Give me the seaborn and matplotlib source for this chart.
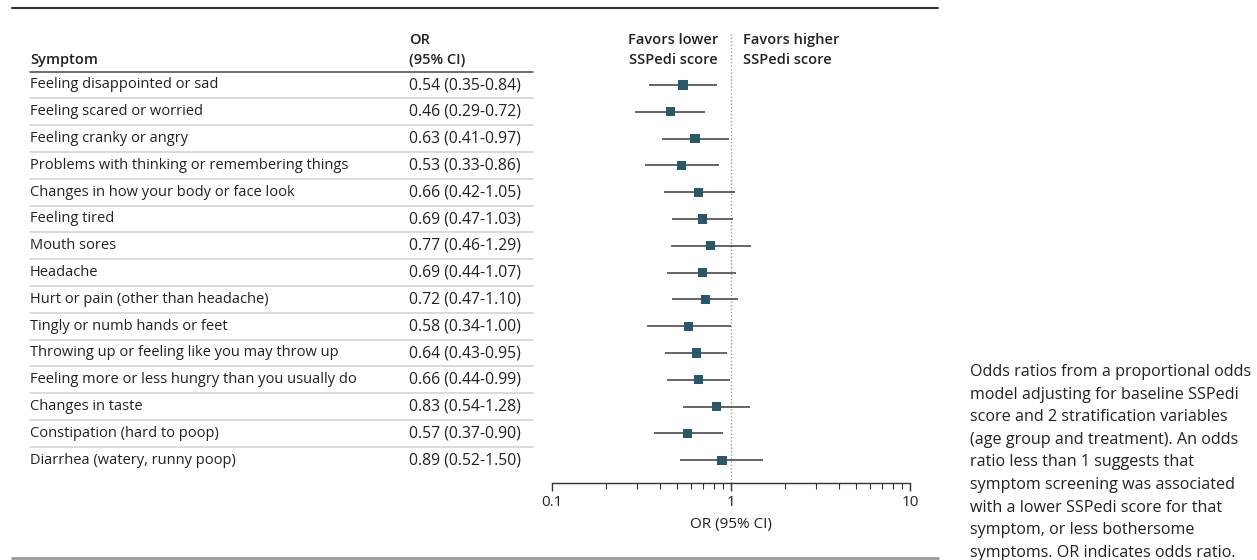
import numpy as np
import pandas as pd
import matplotlib
matplotlib.use("Agg")
import matplotlib.pyplot as plt
import seaborn as sns
from matplotlib import transforms
from matplotlib.lines import Line2D
from matplotlib.ticker import LogLocator, FixedLocator, NullFormatter

# ---------------- data ----------------
symptoms = [
    "Feeling disappointed or sad",
    "Feeling scared or worried",
    "Feeling cranky or angry",
    "Problems with thinking or remembering things",
    "Changes in how your body or face look",
    "Feeling tired",
    "Mouth sores",
    "Headache",
    "Hurt or pain (other than headache)",
    "Tingly or numb hands or feet",
    "Throwing up or feeling like you may throw up",
    "Feeling more or less hungry than you usually do",
    "Changes in taste",
    "Constipation (hard to poop)",
    "Diarrhea (watery, runny poop)",
]
odds_ratio = [0.54, 0.46, 0.63, 0.53, 0.66, 0.69, 0.77, 0.69, 0.72, 0.58, 0.64, 0.66, 0.83, 0.57, 0.89]
ci_low = [0.35, 0.29, 0.41, 0.33, 0.42, 0.47, 0.46, 0.44, 0.47, 0.34, 0.43, 0.44, 0.54, 0.37, 0.52]
ci_high = [0.84, 0.72, 0.97, 0.86, 1.05, 1.03, 1.29, 1.07, 1.10, 1.00, 0.95, 0.99, 1.28, 0.90, 1.50]
x_ticks = [0.1, 1, 10]
x_tick_labels = ["0.1", "1", "10"]
caption_lines = [
    "Odds ratios from a proportional odds",
    "model adjusting for baseline SSPedi",
    "score and 2 stratification variables",
    "(age group and treatment). An odds",
    "ratio less than 1 suggests that",
    "symptom screening was associated",
    "with a lower SSPedi score for that",
    "symptom, or less bothersome",
    "symptoms. OR indicates odds ratio.",
]

df = pd.DataFrame({
    "symptom": symptoms,
    "OR": odds_ratio,
    "lo": ci_low,
    "hi": ci_high,
})
df["row"] = np.arange(len(df))
df["label"] = [f"{o:.2f} ({l:.2f}-{h:.2f})" for o, l, h in zip(df.OR, df.lo, df.hi)]

# ---------------- style ----------------
sns.set_theme(style="white")
plt.rcParams["font.family"] = ["Open Sans", "DejaVu Sans"]

W, H = 1257, 560
fig = plt.figure(figsize=(W / 100, H / 100), dpi=100)
fig.patch.set_facecolor("white")

def fx(px):
    return px / W

def fy(py):
    return 1 - py / H

TEXT = "#222222"
MARK = "#2b5868"
FS = 10.5

# layout in pixels
ax_top, ax_bot = 32, 483
row0, step = 85, 26.8

ax = fig.add_axes([fx(552), fy(ax_bot), fx(910) - fx(552), fy(ax_top) - fy(ax_bot)])
ax.set_xscale("log")
ax.set_xlim(0.1, 10)
ax.set_ylim((ax_bot - row0) / step, (ax_top - row0) / step)

ax.hlines(df["row"], df["lo"], df["hi"], color="#3a3a3a", lw=1.1, zorder=2)
sns.scatterplot(data=df, x="OR", y="row", marker="s", s=44, color=MARK,
                edgecolor="none", linewidth=0, ax=ax, zorder=3, legend=False)
ax.axvline(1, color="#9a9a9a", ls=(0, (1, 1.5)), lw=1.0, zorder=1)

for s in ["left", "top", "right"]:
    ax.spines[s].set_visible(False)
ax.spines["bottom"].set_color("#333333")
ax.spines["bottom"].set_linewidth(1.0)
ax.set_yticks([])
ax.set_ylabel("")
ax.xaxis.set_major_locator(FixedLocator(x_ticks))
ax.set_xticklabels(x_tick_labels)
ax.xaxis.set_minor_locator(LogLocator(base=10, subs=np.arange(2, 10)))
ax.xaxis.set_minor_formatter(NullFormatter())
ax.tick_params(axis="x", which="major", direction="out", length=6, width=1,
               color="#333333", labelsize=11, labelcolor=TEXT, pad=3, bottom=True)
ax.tick_params(axis="x", which="minor", direction="out", length=4, width=0.8,
               color="#333333", bottom=True)
ax.set_xlabel("OR (95% CI)", fontsize=11, color=TEXT, labelpad=5)
ax.set_facecolor("none")

# ---------------- table text ----------------
trans = transforms.blended_transform_factory(fig.transFigure, ax.transData)
for _, r in df.iterrows():
    ax.text(fx(30), r.row, r.symptom, transform=trans, ha="left", va="center",
            fontsize=FS, color=TEXT, clip_on=False)
    ax.text(fx(409), r.row, r.label, transform=trans, ha="left", va="center",
            fontsize=11.3, color=TEXT, clip_on=False)

for i in range(len(df) - 1):
    ln = Line2D([fx(30), fx(533)], [i + 0.5, i + 0.5], transform=trans,
                color="#d4d4d4", lw=1.2, clip_on=False)
    ax.add_line(ln)
ax.add_line(Line2D([fx(30), fx(533)], [-0.5, -0.5], transform=trans,
                   color="#555555", lw=1.2, clip_on=False))

# headers
hdr = dict(fontsize=FS, color=TEXT, fontweight="semibold", va="center")
fig.text(fx(30), fy(60), "Symptom", ha="left", **hdr)
fig.text(fx(409), fy(40), "OR", ha="left", **hdr)
fig.text(fx(409), fy(60), "(95% CI)", ha="left", **hdr)
fig.text(fx(718), fy(40), "Favors lower", ha="right", **hdr)
fig.text(fx(718), fy(60), "SSPedi score", ha="right", **hdr)
fig.text(fx(743), fy(40), "Favors higher", ha="left", **hdr)
fig.text(fx(743), fy(60), "SSPedi score", ha="left", **hdr)

# rules
fig.add_artist(Line2D([fx(12), fx(938)], [fy(8), fy(8)], color="#333333", lw=1.5))
fig.add_artist(Line2D([fx(12), fx(938)], [fy(558), fy(558)], color="#9a9a9a", lw=2))

# caption
for i, line in enumerate(caption_lines):
    fig.text(fx(970), fy(372 + 22.6 * i), line, ha="left", va="center",
             fontsize=11.6, color=TEXT)

fig.savefig("out.png", dpi=100, facecolor="white")
